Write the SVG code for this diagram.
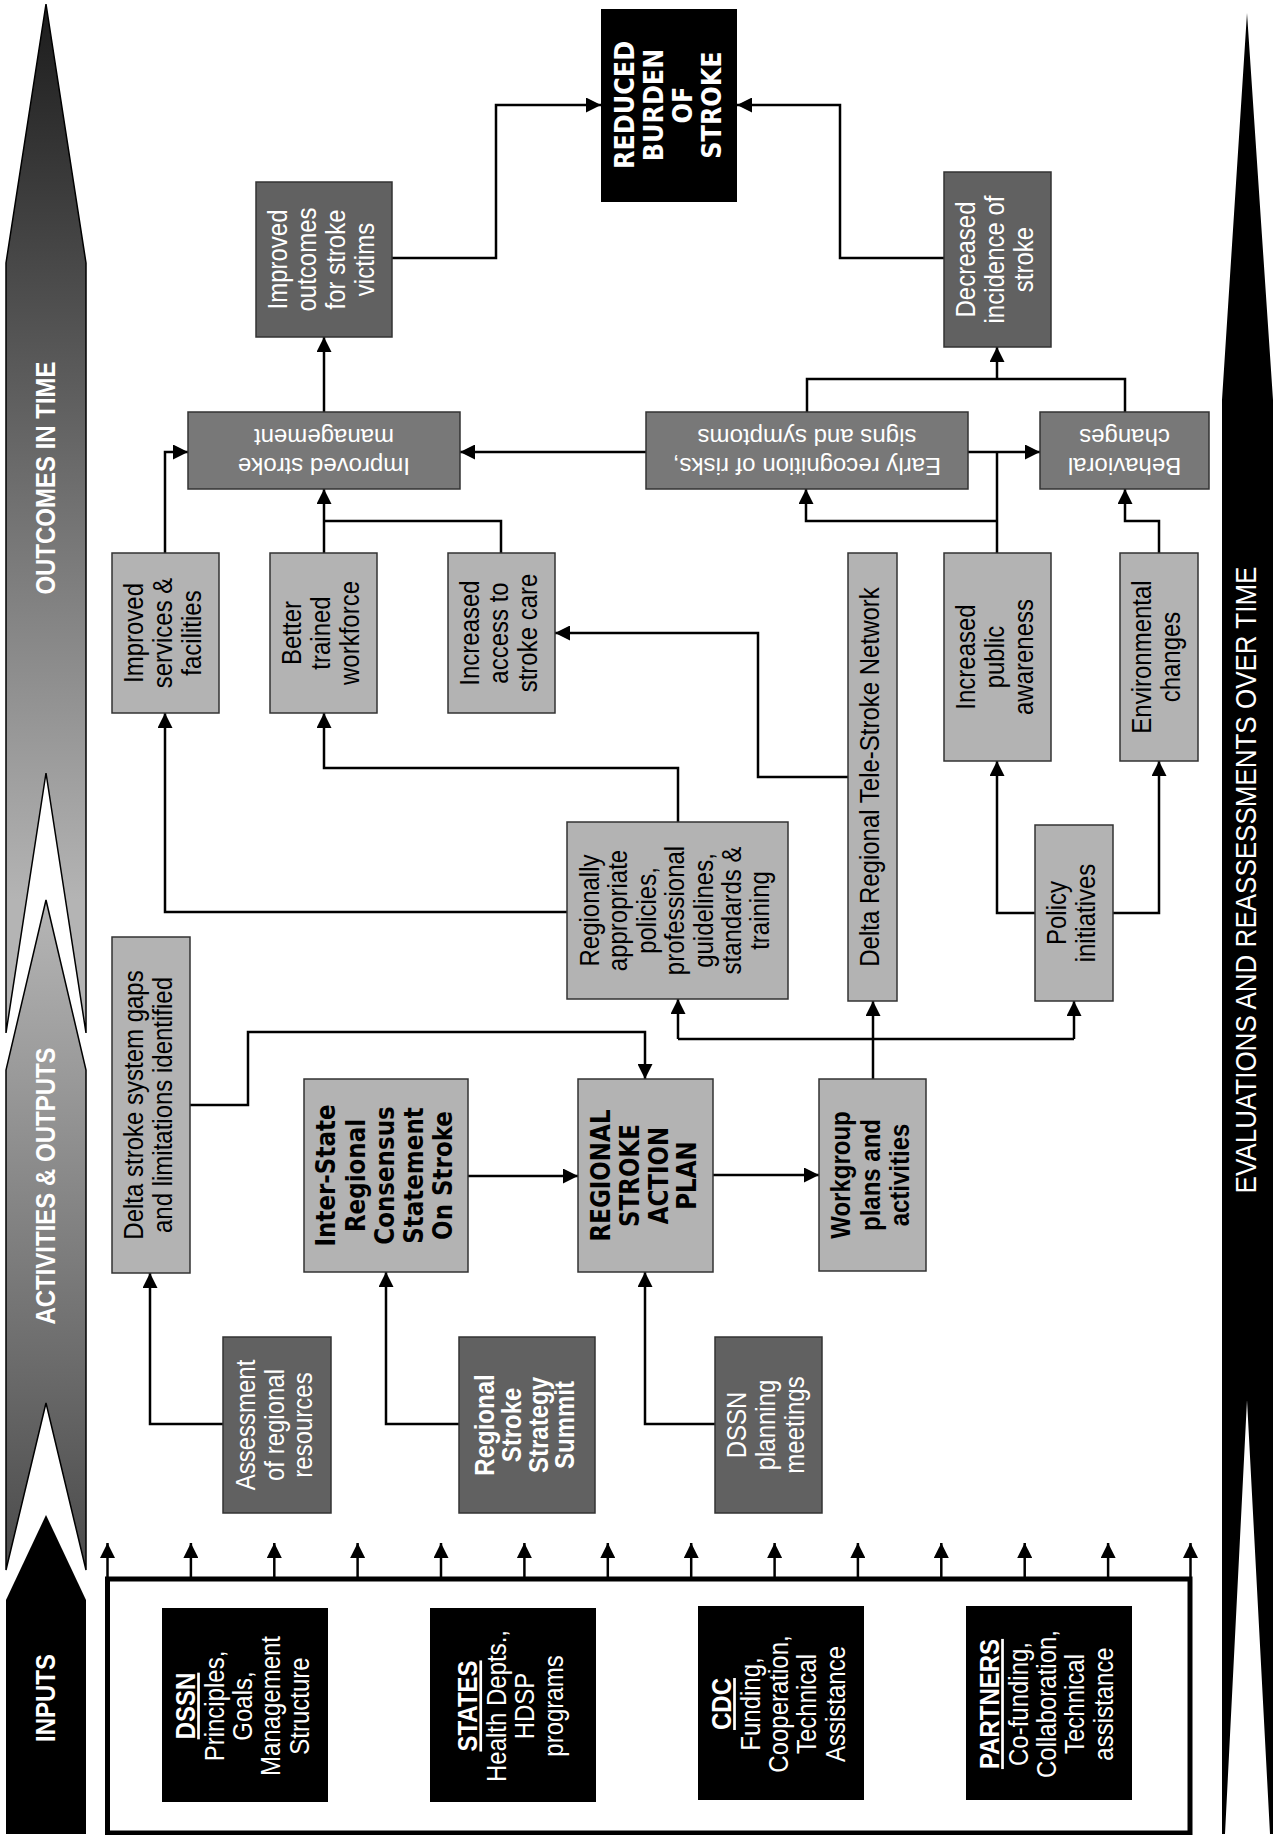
<svg xmlns="http://www.w3.org/2000/svg" width="1277" height="1835" viewBox="0 0 1277 1835">
<defs>
<style>
.bl{fill:#b3b3b3;stroke:#333;stroke-width:1.5}
.bd{fill:#616161;stroke:#333;stroke-width:1.5}
.bm{fill:#787878;stroke:#333;stroke-width:1.5}
.bk{fill:#000}
.t{font-family:"Liberation Sans",Arial,sans-serif;font-size:24px;text-anchor:middle;fill:#000}
.w{fill:#fff}
.b{font-weight:bold}
.h{font-family:"DejaVu Sans",sans-serif;font-weight:bold;font-size:23px}
.u{text-decoration:underline;font-weight:bold}
.c{fill:none;stroke:#000;stroke-width:2.5}
.a{marker-end:url(#ah)}
</style>
<marker id="ah" markerWidth="15" markerHeight="15" refX="15" refY="7.5" orient="auto" markerUnits="userSpaceOnUse"><path d="M0,0 L15,7.5 L0,15 z" fill="#000"/></marker>
<linearGradient id="gOut" gradientUnits="userSpaceOnUse" x1="0" y1="4" x2="0" y2="900"><stop offset="0" stop-color="#1c1c1c"/><stop offset="1" stop-color="#b4b4b4"/></linearGradient>
<linearGradient id="gAct" gradientUnits="userSpaceOnUse" x1="0" y1="900" x2="0" y2="1570"><stop offset="0" stop-color="#b6b6b6"/><stop offset="1" stop-color="#4a4a4a"/></linearGradient>
</defs>
<rect width="1277" height="1835" fill="#fff"/>

<g id="band-outcomes">
<polygon points="46,4 86,263 86,1033 46,773 6,1033 6,263" fill="url(#gOut)" stroke="#000" stroke-width="1.5"/>
<text class="t b w" transform="translate(46,478) rotate(-90) scale(1,1.12)" x="0" y="7.7">OUTCOMES IN TIME</text>
</g>
<g id="band-activities">
<polygon points="46,900 86,1070 86,1570 46,1403 6,1570 6,1070" fill="url(#gAct)" stroke="#000" stroke-width="1.5"/>
<text class="t b w" transform="translate(46,1186) rotate(-90) scale(1,1.12)" x="0" y="7.7">ACTIVITIES &amp; OUTPUTS</text>
</g>
<g id="band-inputs">
<polygon points="46,1515 86,1600 86,1834 6,1834 6,1600" fill="#000"/>
<text class="t b w" transform="translate(46,1698) rotate(-90) scale(1,1.12)" x="0" y="7.7">INPUTS</text>
</g>
<g id="band-evaluations">
<polygon points="1247,13 1273,400 1273,1834 1270,1834 1247,1400 1225,1834 1222,1834 1222,400" fill="#000"/>
<text class="t w" style="font-size:26px" transform="translate(1247,880) rotate(-90) scale(1,1.12)" x="0" y="8.4">EVALUATIONS AND REASSESSMENTS OVER TIME</text>
</g>

<g id="connectors">
<path class="c a" d="M392,258 H496 V105 H601"/>
<path class="c a" d="M944,258 H840 V105 H737"/>
<path class="c a" d="M324,412 V337"/>
<path class="c a" d="M165,553 V452 H188"/>
<path class="c a" d="M646,452 H460"/>
<path class="c a" d="M324,553 V489"/>
<path class="c" d="M501,553 V521 H324"/>
<path class="c" d="M807,412 V379 H1125 V412"/>
<path class="c a" d="M997,379 V347"/>
<path class="c" d="M997,553 V452"/>
<path class="c a" d="M997,521 H806 V489"/>
<path class="c a" d="M968,452 H1040"/>
<path class="c a" d="M1159,553 V521 H1125 V489"/>
<path class="c a" d="M848,777 H758 V633 H555"/>
<path class="c a" d="M678,822 V768 H324 V713"/>
<path class="c a" d="M567,912 H165 V713"/>
<path class="c a" d="M1035,913 H997 V761"/>
<path class="c a" d="M1113,913 H1159 V761"/>
<path class="c a" d="M873,1079 V1001"/>
<path class="c" d="M678,1039 H1074"/>
<path class="c a" d="M678,1039 V999"/>
<path class="c a" d="M1074,1039 V1001"/>
<path class="c a" d="M190,1105 H248 V1032 H645 V1079"/>
<path class="c a" d="M468,1176 H578"/>
<path class="c a" d="M713,1175 H819"/>
<path class="c a" d="M223,1424 H150 V1273"/>
<path class="c a" d="M459,1424 H386 V1272"/>
<path class="c a" d="M715,1424 H645 V1272"/>
<path class="c a" d="M107.5,1577 V1543"/>
<path class="c a" d="M190.9,1577 V1543"/>
<path class="c a" d="M274.3,1577 V1543"/>
<path class="c a" d="M357.6,1577 V1543"/>
<path class="c a" d="M441,1577 V1543"/>
<path class="c a" d="M524.4,1577 V1543"/>
<path class="c a" d="M607.8,1577 V1543"/>
<path class="c a" d="M691.2,1577 V1543"/>
<path class="c a" d="M774.6,1577 V1543"/>
<path class="c a" d="M857.9,1577 V1543"/>
<path class="c a" d="M941.3,1577 V1543"/>
<path class="c a" d="M1024.7,1577 V1543"/>
<path class="c a" d="M1108.1,1577 V1543"/>
<path class="c a" d="M1190.5,1577 V1543"/>
</g>

<g id="reduced-burden">
<rect class="bk" x="601" y="9" width="136" height="193"/>
<text class="t h w" style="font-size:24px" transform="translate(669,105) rotate(-90) scale(1,1.12)"><tspan x="0" y="-31.1">REDUCED</tspan><tspan x="0" y="-5.2">BURDEN</tspan><tspan x="0" y="20.7">OF</tspan><tspan x="0" y="46.6">STROKE</tspan></text>
</g>
<g id="improved-outcomes">
<rect class="bd" x="256" y="182" width="136" height="155"/>
<text class="t w" transform="translate(324,259.5) rotate(-90) scale(1,1.12)"><tspan x="0" y="-32.6">Improved</tspan><tspan x="0" y="-7">outcomes</tspan><tspan x="0" y="18.7">for stroke</tspan><tspan x="0" y="44.3">victims</tspan></text>
</g>
<g id="decreased-incidence">
<rect class="bd" x="944" y="172" width="107" height="175"/>
<text class="t w" transform="translate(997.5,259.5) rotate(-90) scale(1,1.12)"><tspan x="0" y="-19.8">Decreased</tspan><tspan x="0" y="5.8">incidence of</tspan><tspan x="0" y="31.4">stroke</tspan></text>
</g>
<g id="improved-stroke-management">
<rect class="bm" x="188" y="412" width="272" height="77"/>
<text class="t w" transform="translate(324,450.5) rotate(180)"><tspan x="0" y="-7.5">Improved stroke</tspan><tspan x="0" y="21.2">management</tspan></text>
</g>
<g id="early-recognition">
<rect class="bm" x="646" y="412" width="322" height="77"/>
<text class="t w" transform="translate(807,450.5) rotate(180)"><tspan x="0" y="-7.5">Early recognition of risks,</tspan><tspan x="0" y="21.2">signs and symptoms</tspan></text>
</g>
<g id="behavioral-changes">
<rect class="bm" x="1040" y="412" width="169" height="77"/>
<text class="t w" transform="translate(1124.5,450.5) rotate(180)"><tspan x="0" y="-7.5">Behavioral</tspan><tspan x="0" y="21.2">changes</tspan></text>
</g>
<g id="improved-services">
<rect class="bl" x="112" y="553" width="107" height="160"/>
<text class="t" transform="translate(165.5,633) rotate(-90) scale(1,1.12)"><tspan x="0" y="-19.8">Improved</tspan><tspan x="0" y="5.8">services &amp;</tspan><tspan x="0" y="31.4">facilities</tspan></text>
</g>
<g id="better-trained">
<rect class="bl" x="270" y="553" width="107" height="160"/>
<text class="t" transform="translate(323.5,633) rotate(-90) scale(1,1.12)"><tspan x="0" y="-19.8">Better</tspan><tspan x="0" y="5.8">trained</tspan><tspan x="0" y="31.4">workforce</tspan></text>
</g>
<g id="increased-access">
<rect class="bl" x="448" y="553" width="107" height="160"/>
<text class="t" transform="translate(501.5,633) rotate(-90) scale(1,1.12)"><tspan x="0" y="-19.8">Increased</tspan><tspan x="0" y="5.8">access to</tspan><tspan x="0" y="31.4">stroke care</tspan></text>
</g>
<g id="tele-stroke">
<rect class="bl" x="848" y="553" width="49" height="448"/>
<text class="t" transform="translate(872.5,777) rotate(-90) scale(1,1.12)" x="0" y="5.8">Delta Regional Tele-Stroke Network</text>
</g>
<g id="public-awareness">
<rect class="bl" x="944" y="553" width="107" height="208"/>
<text class="t" transform="translate(997.5,657) rotate(-90) scale(1,1.12)"><tspan x="0" y="-19.8">Increased</tspan><tspan x="0" y="5.8">public</tspan><tspan x="0" y="31.4">awareness</tspan></text>
</g>
<g id="environmental-changes">
<rect class="bl" x="1120" y="553" width="78" height="208"/>
<text class="t" transform="translate(1159,657) rotate(-90) scale(1,1.12)"><tspan x="0" y="-7">Environmental</tspan><tspan x="0" y="18.7">changes</tspan></text>
</g>
<g id="regional-policies">
<rect class="bl" x="567" y="822" width="221" height="177"/>
<text class="t" transform="translate(677.5,910.5) rotate(-90) scale(1,1.12)"><tspan x="0" y="-70.5">Regionally</tspan><tspan x="0" y="-45.1">appropriate</tspan><tspan x="0" y="-19.6">policies,</tspan><tspan x="0" y="5.8">professional</tspan><tspan x="0" y="31.3">guidelines,</tspan><tspan x="0" y="56.7">standards &amp;</tspan><tspan x="0" y="82.1">training</tspan></text>
</g>
<g id="policy-initiatives">
<rect class="bl" x="1035" y="825" width="78" height="176"/>
<text class="t" transform="translate(1074,913) rotate(-90) scale(1,1.12)"><tspan x="0" y="-7">Policy</tspan><tspan x="0" y="18.7">initiatives</tspan></text>
</g>
<g id="system-gaps">
<rect class="bl" x="112" y="937" width="78" height="336"/>
<text class="t" transform="translate(151,1105) rotate(-90) scale(1,1.12)"><tspan x="0" y="-7">Delta stroke system gaps</tspan><tspan x="0" y="18.7">and limitations identified</tspan></text>
</g>
<g id="consensus-statement">
<rect class="bl" x="304" y="1079" width="164" height="193"/>
<text class="t h" transform="translate(386,1175.5) rotate(-90) scale(1,1.12)"><tspan x="0" y="-45.1">Inter-State</tspan><tspan x="0" y="-19.2">Regional</tspan><tspan x="0" y="6.7">Consensus</tspan><tspan x="0" y="32.6">Statement</tspan><tspan x="0" y="58.5">On Stroke</tspan></text>
</g>
<g id="action-plan">
<rect class="bl" x="578" y="1079" width="135" height="193"/>
<text class="t h" transform="translate(645.5,1175.5) rotate(-90) scale(1,1.12)"><tspan x="0" y="-31.3">REGIONAL</tspan><tspan x="0" y="-5.4">STROKE</tspan><tspan x="0" y="20.5">ACTION</tspan><tspan x="0" y="45.5">PLAN</tspan></text>
</g>
<g id="workgroup">
<rect class="bl" x="819" y="1079" width="107" height="192"/>
<text class="t b" transform="translate(872.5,1175) rotate(-90) scale(1,1.12)"><tspan x="0" y="-20.1">Workgroup</tspan><tspan x="0" y="6.3">plans and</tspan><tspan x="0" y="32.6">activities</tspan></text>
</g>
<g id="assessment">
<rect class="bd" x="223" y="1337" width="108" height="176"/>
<text class="t w" transform="translate(277,1425) rotate(-90) scale(1,1.12)"><tspan x="0" y="-19.8">Assessment</tspan><tspan x="0" y="5.8">of regional</tspan><tspan x="0" y="31.4">resources</tspan></text>
</g>
<g id="strategy-summit">
<rect class="bd" x="459" y="1337" width="136" height="176"/>
<text class="t b w" transform="translate(527,1425) rotate(-90) scale(1,1.12)"><tspan x="0" y="-29.9">Regional</tspan><tspan x="0" y="-5.8">Stroke</tspan><tspan x="0" y="18.3">Strategy</tspan><tspan x="0" y="42.4">Summit</tspan></text>
</g>
<g id="planning-meetings">
<rect class="bd" x="715" y="1337" width="107" height="176"/>
<text class="t w" transform="translate(768.5,1425) rotate(-90) scale(1,1.12)"><tspan x="0" y="-19.8">DSSN</tspan><tspan x="0" y="5.8">planning</tspan><tspan x="0" y="31.4">meetings</tspan></text>
</g>

<g id="inputs-frame">
<rect x="107.5" y="1579" width="1082.5" height="254" fill="none" stroke="#000" stroke-width="5"/>
</g>
<g id="input-dssn">
<rect class="bk" x="162" y="1608" width="166" height="194"/>
<text class="t w" transform="translate(245,1706) rotate(-90) scale(1,1.12)"><tspan class="u" x="0" y="-44.6">DSSN</tspan><tspan x="0" y="-19.2">Principles,</tspan><tspan x="0" y="6.3">Goals,</tspan><tspan x="0" y="31.7">Management</tspan><tspan x="0" y="57.1">Structure</tspan></text>
</g>
<g id="input-states">
<rect class="bk" x="430" y="1608" width="166" height="194"/>
<text class="t w" transform="translate(513,1706) rotate(-90) scale(1,1.12)"><tspan class="u" x="0" y="-31.9">STATES</tspan><tspan x="0" y="-6.5">Health Depts.,</tspan><tspan x="0" y="19">HDSP</tspan><tspan x="0" y="44.4">programs</tspan></text>
</g>
<g id="input-cdc">
<rect class="bk" x="698" y="1606" width="166" height="194"/>
<text class="t w" transform="translate(781,1704) rotate(-90) scale(1,1.12)"><tspan class="u" x="0" y="-44.6">CDC</tspan><tspan x="0" y="-19.2">Funding,</tspan><tspan x="0" y="6.3">Cooperation,</tspan><tspan x="0" y="31.7">Technical</tspan><tspan x="0" y="57.1">Assistance</tspan></text>
</g>
<g id="input-partners">
<rect class="bk" x="966" y="1606" width="166" height="194"/>
<text class="t w" transform="translate(1049,1704) rotate(-90) scale(1,1.12)"><tspan class="u" x="0" y="-44.6">PARTNERS</tspan><tspan x="0" y="-19.2">Co-funding,</tspan><tspan x="0" y="6.3">Collaboration,</tspan><tspan x="0" y="31.7">Technical</tspan><tspan x="0" y="57.1">assistance</tspan></text>
</g>
</svg>
